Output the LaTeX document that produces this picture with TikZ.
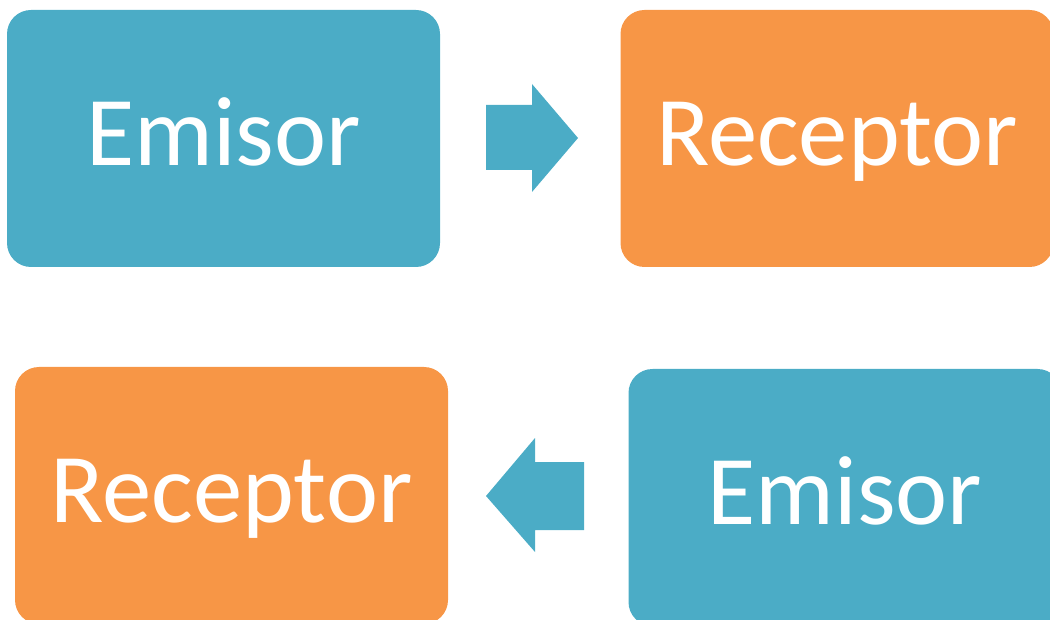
\documentclass[tikz,border=0pt]{standalone}
\usepackage{fontspec}
\setmainfont{Carlito}
\definecolor{emisorblue}{HTML}{4BACC6}
\definecolor{receptororange}{HTML}{F79646}
\tikzset{
  caja/.style={rounded corners=18pt, minimum width=324.75pt, minimum height=192.75pt,
    inner sep=0pt, text=white, text height=60pt, text depth=20pt,
    font=\fontsize{74}{80}\selectfont},
}
\begin{document}
\begin{tikzpicture}[x=0.75pt,y=-0.75pt]
        \useasboundingbox (0,0) rectangle (1050,620);
        \clip (0,0) rectangle (1050,620);

        \node [caja, fill=emisorblue] (emisorA) at (223.5,138.5) {Emisor};
        \node [caja, fill=receptororange] (receptorA) at (837,138.5) {Receptor};
        \node [caja, fill=receptororange] (receptorB) at (231.5,495.5) {Receptor};
        \node [caja, fill=emisorblue] (emisorB) at (845,497.5) {Emisor};

        % flechas
        \fill [emisorblue] (486,105) -- (532,105) -- (532,84) -- (578,138)
              -- (532,192) -- (532,170) -- (486,170) -- cycle;
        \fill [emisorblue] (584,462) -- (535,462) -- (535,438) -- (486,496)
              -- (535,552) -- (535,530) -- (584,530) -- cycle;
\end{tikzpicture}
\end{document}
